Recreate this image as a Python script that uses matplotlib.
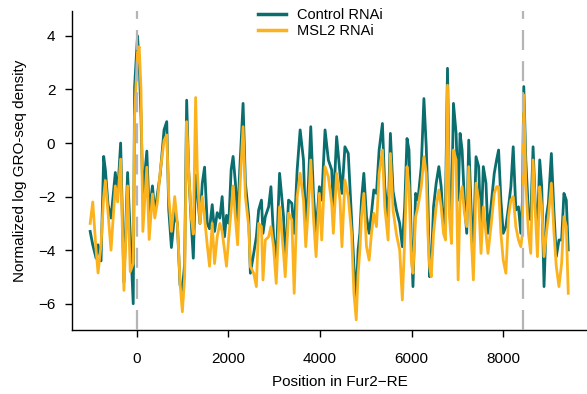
import matplotlib
matplotlib.use("Agg")
import matplotlib.pyplot as plt

# positions along Fur2-RE (bp) and the two GRO-seq tracks
pos = [-1020, -964, -891, -848, -783, -725, -688, -630, -565, -471, -420, -355,
       -283, -203, -145, -80, -50, 14, 50, 90, 130, 217, 268, 340, 391, 449,
       507, 594, 652, 696, 754, 826, 884, 942, 993, 1043, 1087, 1130, 1188,
       1232, 1283, 1319, 1377, 1428, 1478, 1536, 1587, 1645, 1696, 1754, 1812,
       1862, 1913, 1957, 2007, 2058, 2101, 2152, 2200, 2246, 2319, 2370, 2442,
       2478, 2551, 2609, 2659, 2720, 2754, 2804, 2877, 2927, 2985, 3043, 3116,
       3203, 3239, 3312, 3384, 3435, 3500, 3565, 3638, 3688, 3746, 3797, 3855,
       3913, 3985, 4036, 4109, 4181, 4254, 4290, 4362, 4435, 4478, 4543, 4616,
       4688, 4740, 4790, 4830, 4869, 4905, 4956, 5014, 5072, 5123, 5174, 5232,
       5290, 5362, 5413, 5486, 5536, 5594, 5667, 5739, 5797, 5848, 5899, 5942,
       5993, 6029, 6087, 6138, 6210, 6268, 6319, 6355, 6392, 6428, 6478, 6536,
       6594, 6645, 6696, 6739, 6783, 6826, 6870, 6913, 6971, 7015, 7058, 7102,
       7152, 7203, 7247, 7297, 7348, 7406, 7464, 7515, 7565, 7623, 7667, 7732,
       7804, 7855, 7899, 7949, 8000, 8058, 8116, 8167, 8218, 8276, 8333, 8384,
       8420, 8449, 8493, 8551, 8601, 8652, 8696, 8747, 8797, 8841, 8891, 8942,
       8986, 9051, 9109, 9159, 9217, 9275, 9326, 9377, 9420]

control = [-3.3, -3.8, -4.3, -3.8, -4.4, -0.5, -1.0, -2.3, -2.8, -1.1, -1.9, 0.0,
           -5.2, -1.1, -3.4, -6.0, 2.1, 4.0, 3.0, 1.0, -2.0, -0.3, -2.6, -1.6, -2.6, -1.9,
           -1.2, 0.5, 0.8, -2.5, -3.9, -2.6, -3.0, -5.3, -5.5, -4.5, 1.6, -1.0, -3.0,
           -4.3, -1.2, -1.8, -3.0, -1.5, -0.9, -3.0, -3.2, -2.3, -3.3, -2.6, -2.8,
           -2.0, -3.5, -2.7, -3.0, -1.0, -0.5, -1.5, -2.9, -1.0, 1.48, -1.5, -2.75,
           -4.86, -4.12, -3.5, -2.5, -2.13, -3.37, -2.75, -2.38, -1.63, -3.5, -4.37, -1.13,
           -2.75, -4.61, -2.13, -2.25, -3.37, -1.0, 0.49, -0.63, -3.37, -1.5, 0.61, -1.88,
           -3.37, -1.63, -2.13, 0.49, -0.63, -1.0, -2.38, 0.24, -1.13, -1.88, -0.14, -0.39,
           -2.87, -4.61, -5.73, -4.0, -3.37, -2.13, -1.13, -2.75, -3.37, -2.62, -1.75, -1.88,
           -0.26, 0.73, -1.63, -2.87, 0.36, -1.8, -2.5, -3.0, -3.87, -2.38, 0.17, -0.26,
           -3.62, -5.36, -1.88, -2.13, -0.88, 1.66, -0.14, -2.13, -4.99, -4.61, -2.38, -1.5,
           -0.88, -1.63, -3.12, -2.38, 2.79, -2.13, -2.75, 1.48, 0.36, -2.13, 0.36, -0.26,
           -2.13, -3.37, 0.11, -2.38, -4.12, -0.51, -0.88, -3.37, -0.88, -1.5, -3.37, -2.38,
           -1.13, -0.63, -0.26, -2.13, -3.37, -3.12, -2.38, -1.63, -0.14, -2.5, -2.38, -3.37,
           -2.13, 2.11, -0.63, -2.62, -2.87, -0.14, -2.13, -3.37, -0.63, -1.63, -5.36, -2.75,
           -2.25, -0.39, -2.62, -4.24, -3.62, -3.62, -1.88, -2.13, -3.99]

msl2 = [-3.0, -2.2, -4.0, -4.85, -3.8, -2.0, -1.4, -2.6, -4.0, -1.6, -2.2, -0.6,
        -5.5, -1.6, -4.8, -4.5, 1.0, 3.4, 3.6, 2.0, -3.3, -0.9, -3.6, -1.9, -2.8, -2.2,
        -1.1, 0.1, 0.3, -2.0, -3.3, -2.0, -3.0, -5.2, -6.3, -5.0, 0.8, -1.0, -2.8,
        -3.4, 1.7, -1.0, -3.0, -2.0, -2.8, -3.8, -4.6, -3.0, -4.5, -3.5, -3.0,
        -3.3, -4.0, -4.6, -3.5, -2.5, -1.6, -2.8, -3.8, -1.8, 0.61, -2.0, -3.12,
        -4.61, -4.86, -5.36, -3.0, -3.12, -5.11, -3.62, -3.5, -3.12, -3.87, -5.24, -2.38,
        -4.12, -4.99, -2.62, -2.87, -5.61, -2.0, -1.13, -2.13, -3.87, -2.38, -0.63, -2.75,
        -4.24, -1.88, -3.62, -0.88, -1.26, -2.25, -3.37, -1.13, -2.13, -3.87, -1.38, -2.0,
        -3.37, -5.61, -6.6, -4.9, -3.99, -2.75, -1.88, -3.87, -4.37, -3.37, -2.62, -3.12,
        -1.13, -0.26, -2.38, -3.62, -0.39, -2.5, -3.4, -4.0, -5.86, -3.62, -0.88, -1.63,
        -4.37, -4.86, -2.75, -2.38, -1.63, -0.51, -1.13, -3.37, -4.61, -4.99, -3.37, -2.38,
        -1.75, -2.38, -3.37, -3.62, 2.16, -2.75, -3.75, -0.26, -0.63, -5.11, -2.13, -1.63,
        -2.62, -3.12, -0.88, -3.37, -5.11, -1.5, -2.13, -4.12, -2.38, -3.37, -4.12, -3.12,
        -1.88, -1.63, -1.63, -3.37, -4.37, -4.86, -2.75, -2.13, -2.0, -3.12, -3.62, -3.87,
        -3.37, 1.79, -1.5, -3.37, -4.12, -0.63, -2.38, -4.24, -1.63, -2.38, -4.24, -3.37,
        -2.75, -1.5, -3.37, -4.61, -5.36, -4.49, -2.75, -3.12, -5.61]

marks = [0, 8430]
xticks = [0, 2000, 4000, 6000, 8000]
yticks = [-6, -4, -2, 0, 2, 4]

plt.rcParams['font.family'] = ['Liberation Sans', 'DejaVu Sans']

W, H = 587, 394
fig = plt.figure(figsize=(W / 100, H / 100), dpi=100)
ax = fig.add_axes([72 / W, 1 - 330 / H, (608 - 72) / W, (330 - 11) / H])

ax.plot(pos, control, color='#0a6d6e', lw=2.0, label='Control RNAi', zorder=2,
        solid_joinstyle='round')
ax.plot(pos, msl2, color='#fbb21c', lw=2.0, label='MSL2 RNAi', zorder=3,
        solid_joinstyle='round')
for m in marks:
    ax.axvline(m, color='#b5b5b5', lw=1.6, ls=(0, (9, 5)), zorder=4)

ax.set_xlim(-1417, 10288)
ax.set_ylim(-6.98, 4.93)
ax.set_xticks(xticks)
ax.set_yticks(yticks)
ax.set_yticklabels(['\u22126', '\u22124', '\u22122', '0', '2', '4'])
ax.spines['top'].set_visible(False)
ax.spines['right'].set_visible(False)
for s in ('left', 'bottom'):
    ax.spines[s].set_linewidth(1.0)
ax.tick_params(axis='both', direction='out', length=5, width=1.0, labelsize=11)
ax.tick_params(axis='x', pad=11)
ax.tick_params(axis='y', pad=7)
ax.set_xlabel('Position in Fur2\u2212RE', fontsize=11, labelpad=6)
ax.set_ylabel('Normalized log GRO-seq density', fontsize=11, labelpad=8)

fig.legend(loc='upper left', bbox_to_anchor=(258 / W, 1 - 8 / H), frameon=False,
           fontsize=10.5, handlelength=1.9, handletextpad=0.8, labelspacing=0.15,
           borderpad=0, borderaxespad=0)
for line in fig.legends[0].get_lines():
    line.set_linewidth(2.5)

fig.savefig('out.png', dpi=100)
